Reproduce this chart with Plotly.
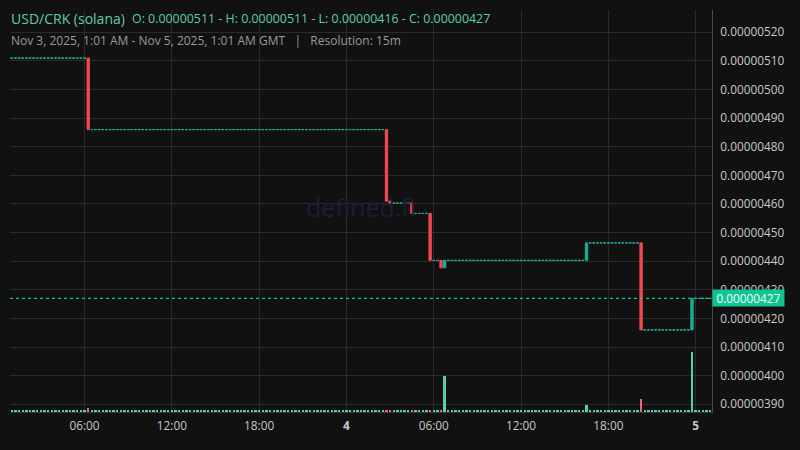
import pandas as pd
import plotly.graph_objects as go

# ---------------- data ----------------
start_time = "2025-11-03 01:00"
end_time = "2025-11-05 01:00"
first_price = 0.00000511          # price before the first move (flat candles)
quiet_volume = 12                 # tiny volume of quiet 15m candles

move_times = ["2025-11-03 06:15", "2025-11-04 02:45", "2025-11-04 03:00",
              "2025-11-04 04:30", "2025-11-04 05:45", "2025-11-04 06:30",
              "2025-11-04 06:45", "2025-11-04 16:30", "2025-11-04 20:15",
              "2025-11-04 23:45"]
move_open = [0.00000511, 0.00000486, 0.00000461, 0.000004603, 0.000004567,
             0.000004403, 0.000004377, 0.000004403, 0.000004464, 0.00000416]
move_close = [0.00000486, 0.00000461, 0.000004603, 0.000004567, 0.000004403,
              0.000004377, 0.000004403, 0.000004464, 0.00000416, 0.00000427]
move_volume = [35, 17, 12, 17, 12, 14, 312, 60, 113, 520]

last_price = 0.00000427
y_tick_values = [0.00000390, 0.00000400, 0.00000410, 0.00000420, 0.00000430,
                 0.00000440, 0.00000450, 0.00000460, 0.00000470, 0.00000480,
                 0.00000490, 0.00000500, 0.00000510, 0.00000520]
x_tick_values = ["2025-11-03 06:00", "2025-11-03 12:00", "2025-11-03 18:00",
                 "2025-11-04 00:00", "2025-11-04 06:00", "2025-11-04 12:00",
                 "2025-11-04 18:00", "2025-11-05 00:00"]
x_tick_labels = ["06:00", "12:00", "18:00", "<b>4</b>", "06:00", "12:00",
                 "18:00", "<b>5</b>"]

title_pair = "USD/CRK (solana)"
title_ohlc = "O: 0.00000511 - H: 0.00000511 - L: 0.00000416 - C: 0.00000427"
subtitle = ("Nov 3, 2025, 1:01 AM - Nov 5, 2025, 1:01 AM GMT\u00a0\u00a0\u00a0|"
            "\u00a0\u00a0\u00a0Resolution: 15m")
watermark = "defined.fi"

# ---------------- build candles ----------------
times = pd.date_range(start_time, end_time, freq="15min")
moves = {pd.Timestamp(t): (o, c, v) for t, o, c, v in
         zip(move_times, move_open, move_close, move_volume)}
flat_x, flat_p = [], []
mv_x, mv_o, mv_c = [], [], []
vols, vcols = [], []
price = first_price
for t in times:
    if t in moves:
        o, c, v = moves[t]
        mv_x.append(t); mv_o.append(o); mv_c.append(c)
    else:
        o, c, v = price, price, quiet_volume
        flat_x.append(t); flat_p.append(price)
    price = c
    vols.append(v)
    vcols.append("#5ccdab" if c >= o else "#e8677d")

UP = "#17b08f"
FLAT = "#1fa897"
DOWN = "#f24a50"
BG = "#111111"
GRID = "#2a2a2a"
FONT = "Open Sans"
TICK_FS = 11.8

fig = go.Figure()
fig.add_trace(go.Bar(
    x=times, y=vols, marker=dict(color=vcols, line=dict(width=0)),
    width=15 * 60 * 1000 * 0.65, yaxis="y2", hoverinfo="skip", showlegend=False))
# quiet candles (open == close)
fig.add_trace(go.Candlestick(
    x=flat_x, open=flat_p, high=flat_p, low=flat_p, close=flat_p,
    increasing=dict(line=dict(color=FLAT, width=1), fillcolor=FLAT),
    decreasing=dict(line=dict(color=FLAT, width=1), fillcolor=FLAT),
    whiskerwidth=0, showlegend=False))
# moving candles
fig.add_trace(go.Candlestick(
    x=mv_x, open=mv_o, high=[max(a, b) for a, b in zip(mv_o, mv_c)],
    low=[min(a, b) for a, b in zip(mv_o, mv_c)], close=mv_c,
    increasing=dict(line=dict(color=UP, width=1), fillcolor=UP),
    decreasing=dict(line=dict(color=DOWN, width=1), fillcolor=DOWN),
    whiskerwidth=0, showlegend=False))

fig.update_layout(
    width=800, height=450,
    margin=dict(l=10, r=88, t=10, b=38),
    paper_bgcolor=BG, plot_bgcolor=BG,
    font=dict(family=FONT, size=TICK_FS, color="#c8c8c8"),
    boxgap=0.36, boxgroupgap=0,
    xaxis=dict(
        type="date", range=["2025-11-03 00:52:30", "2025-11-05 01:07:30"],
        rangeslider=dict(visible=False),
        tickvals=x_tick_values, ticktext=x_tick_labels,
        showgrid=True, gridcolor=GRID, gridwidth=1,
        showline=True, linecolor="#3a3a3a", linewidth=1,
        ticks="outside", ticklen=3, tickcolor="rgba(0,0,0,0)",
        zeroline=False, tickfont=dict(size=TICK_FS, color="#c8c8c8")),
    yaxis=dict(
        side="right", range=[0.000003873, 0.000005278],
        tickvals=y_tick_values, ticktext=[f"{v:.8f}" for v in y_tick_values],
        showgrid=True, gridcolor=GRID, gridwidth=1,
        showline=True, linecolor="#4a4a4a", linewidth=1,
        ticks="outside", ticklen=5, tickcolor="rgba(0,0,0,0)",
        zeroline=False, tickfont=dict(size=TICK_FS, color="#c8c8c8")),
    yaxis2=dict(overlaying="y", range=[0, 3480], visible=False,
                showgrid=False, zeroline=False),
    bargap=0,
)

# header background box hiding grid behind the legend text
fig.add_shape(type="rect", xref="paper", yref="paper",
              x0=0, x1=0.6866, y0=0.8955, y1=1.0,
              fillcolor=BG, line=dict(width=0), layer="between")

# last price line
fig.add_shape(type="line", xref="paper", yref="y", x0=0, x1=1,
              y0=last_price, y1=last_price,
              line=dict(color="#12c494", width=1.3, dash="3px,3px"),
              layer="above")

fig.add_annotation(xref="paper", yref="y", x=1, y=last_price,
                   xanchor="left", yanchor="middle", showarrow=False,
                   text=f"{last_price:.8f}", bgcolor="#10c492",
                   width=71, height=16, borderpad=0, align="center",
                   font=dict(family=FONT, size=TICK_FS, color="#f2fffa"))

# watermark
fig.add_annotation(xref="paper", yref="paper", x=0.5, y=0.51,
                   text=watermark, showarrow=False,
                   font=dict(family=FONT, size=25, color="#1d1d36"))

# header texts
fig.add_annotation(xref="paper", yref="paper", x=0, y=0.978, xanchor="left",
                   yanchor="middle", xshift=-1, showarrow=False, text=title_pair,
                   font=dict(family=FONT, size=14, color="#5ccdab"))
fig.add_annotation(xref="paper", yref="paper", x=0, y=0.978, xanchor="left",
                   yanchor="middle", xshift=120, showarrow=False, text=title_ohlc,
                   font=dict(family=FONT, size=12.4, color="#5ccdab"))
fig.add_annotation(xref="paper", yref="paper", x=0, y=0.925, xanchor="left",
                   yanchor="middle", xshift=-1, showarrow=False, text=subtitle,
                   font=dict(family=FONT, size=12, color="#9a9a9a"))

fig.write_html("out.html", config={"displayModeBar": False},
               post_script="document.body.style.margin='0px';")
